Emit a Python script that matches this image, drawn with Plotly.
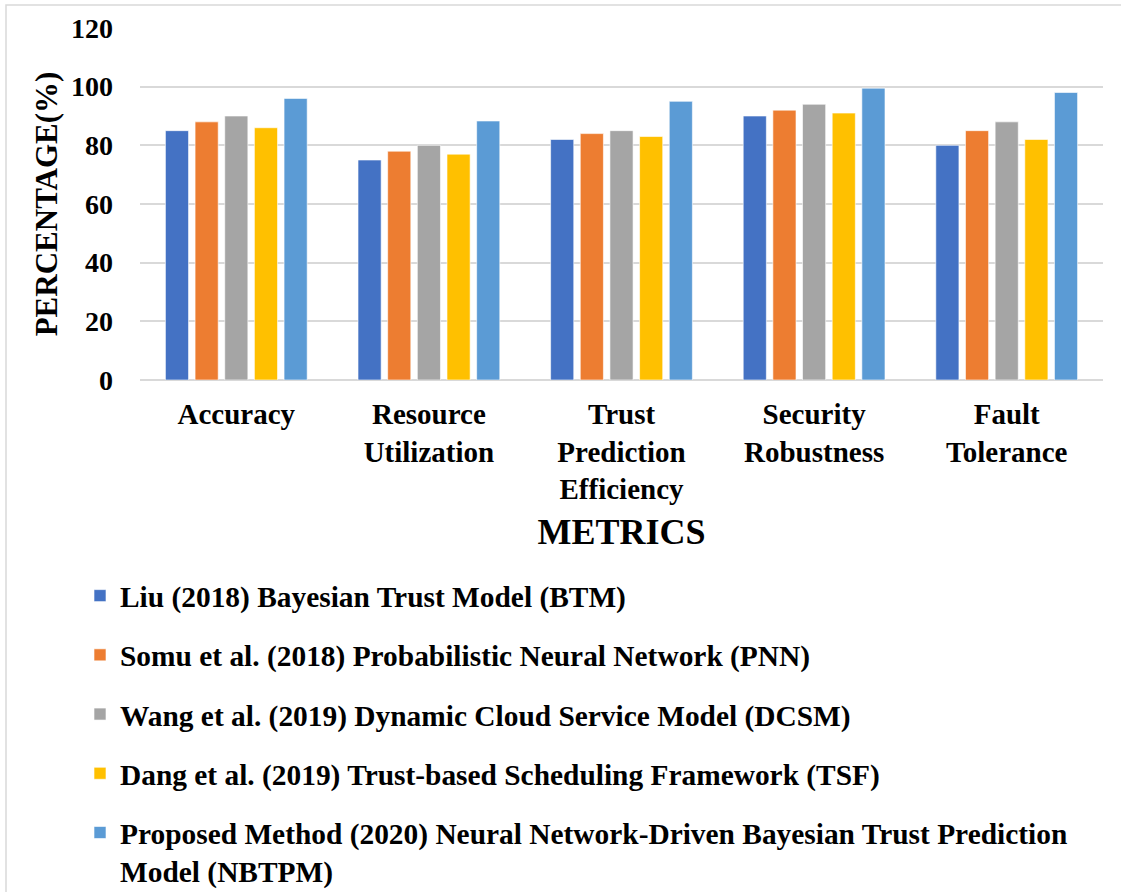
import plotly.graph_objects as go

# Metrics on the x axis
metrics = ["Accuracy", "Resource<br>Utilization", "Trust<br>Prediction<br>Efficiency",
           "Security<br>Robustness", "Fault<br>Tolerance"]

# Model names (legend)
models = [
    "Liu (2018) Bayesian Trust Model (BTM)",
    "Somu et al. (2018) Probabilistic Neural Network (PNN)",
    "Wang et al. (2019) Dynamic Cloud Service Model (DCSM)",
    "Dang et al. (2019) Trust-based Scheduling Framework (TSF)",
    "Proposed Method (2020) Neural Network-Driven Bayesian Trust Prediction<br>Model (NBTPM)",
]

# Percentage scores per model, in metric order
btm = [85, 75, 82, 90, 80]
pnn = [88, 78, 84, 92, 85]
dcsm = [90, 80, 85, 94, 88]
tsf = [86, 77, 83, 91, 82]
nbtpm = [96, 88.3, 95, 99.5, 98]

colors = ["#4472C4", "#ED7D31", "#A5A5A5", "#FFC000", "#5B9BD5"]
series = [btm, pnn, dcsm, tsf, nbtpm]

FONT = "Liberation Serif"

fig = go.Figure()
for i, (name, vals) in enumerate(zip(models, series)):
    fig.add_trace(go.Bar(
        x=metrics, y=vals, name=name, legendgroup=f"g{i}",
        marker=dict(color=colors[i], line=dict(color="rgba(255,255,255,0.6)", width=1)),
    ))

W, H = 1121, 892
L, R, T, B = 140, 18, 28, 512
pw, ph = W - L - R, H - T - B

def px_x(x):
    return (x - L) / pw

def px_y(y):
    return (H - B - y) / ph

fig.update_layout(
    width=W, height=H,
    margin=dict(l=L, r=R, t=T, b=B, autoexpand=False),
    paper_bgcolor="white", plot_bgcolor="white",
    barmode="group", bargap=0.23, bargroupgap=0.22,
    font=dict(family=FONT, color="black", size=29),
    showlegend=True,
    legend=dict(
        orientation="v", x=px_x(80), y=px_y(570), xanchor="left", yanchor="top",
        font=dict(family=FONT, size=29.4, color="black", weight="bold"),
        tracegroupgap=18, itemwidth=30, valign="top", bgcolor="rgba(0,0,0,0)",
    ),
    xaxis=dict(
        automargin=False,
        tickfont=dict(family=FONT, size=29, color="black", weight="bold"),
        showline=False, showgrid=False, ticks="", ticklabelstandoff=14,
        title=dict(text="METRICS", font=dict(family=FONT, size=36, color="black", weight="bold"),
                   standoff=14),
    ),
    yaxis=dict(
        automargin=False,
        range=[0, 120], dtick=20,
        tickfont=dict(family=FONT, size=28, color="black", weight="bold"),
        showgrid=True, gridcolor="#D9D9D9", gridwidth=1.5,
        zeroline=True, zerolinecolor="#D9D9D9", zerolinewidth=2,
        ticks="", ticklabelstandoff=26,
        title=dict(text="PERCENTAGE(%)", font=dict(family=FONT, size=31, color="black", weight="bold"),
                   standoff=4),
    ),
    shapes=[dict(
        type="rect", xref="paper", yref="paper",
        x0=px_x(6), x1=px_x(1200), y0=px_y(1000), y1=px_y(5),
        line=dict(color="#D9D9D9", width=1.5), fillcolor="rgba(0,0,0,0)", layer="below",
    )],
)

fig.write_html("out.html")
